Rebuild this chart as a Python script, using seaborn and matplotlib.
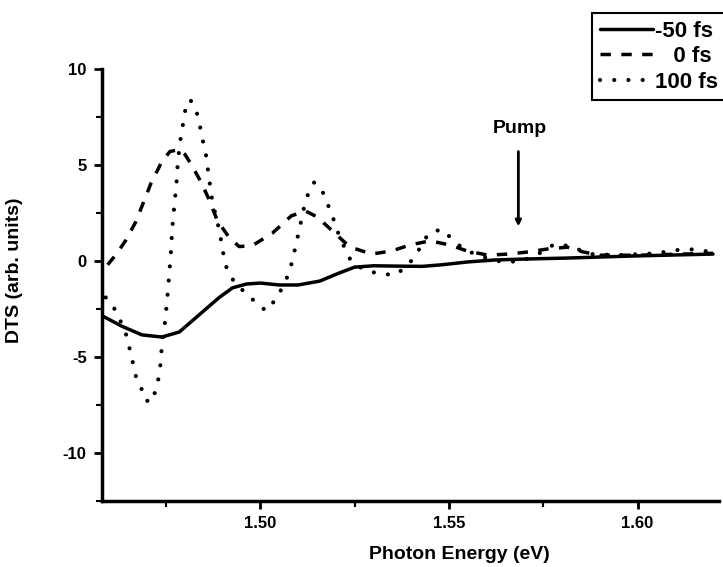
import numpy as np
import pandas as pd
import seaborn as sns
import matplotlib
matplotlib.use("Agg")
import matplotlib.pyplot as plt
from matplotlib.ticker import MultipleLocator

# -50 fs trace (solid)
x_m50 = [1.4585, 1.4633, 1.4686, 1.4739, 1.4785, 1.4838, 1.4891, 1.4926, 1.4963,
         1.5000, 1.5050, 1.5100, 1.5157, 1.5210, 1.5250, 1.5300, 1.5370, 1.5430,
         1.5480, 1.5550, 1.5620, 1.5700, 1.5810, 1.5990, 1.6200]
y_m50 = [-2.9, -3.4, -3.85, -3.96, -3.7, -2.8, -1.9, -1.4, -1.2,
         -1.15, -1.25, -1.25, -1.05, -0.62, -0.32, -0.25, -0.27, -0.28,
         -0.2, -0.05, 0.05, 0.1, 0.15, 0.26, 0.36]

# 0 fs trace (dashed)
x_0 = [1.4595, 1.4620, 1.4644, 1.4670, 1.4691, 1.4710, 1.4737, 1.4760, 1.4785,
       1.4800, 1.4816, 1.4843, 1.4864, 1.4886, 1.4918, 1.4944, 1.4979, 1.5032,
       1.5082, 1.5120, 1.5150, 1.5189, 1.5237, 1.5295, 1.5348, 1.5396, 1.5450,
       1.5503, 1.5548, 1.5604, 1.5657, 1.5710, 1.5760, 1.5814, 1.5856, 1.5900,
       1.6000, 1.6100, 1.6200]
y_0 = [-0.2, 0.4, 1.1, 2.05, 3.1, 4.05, 5.1, 5.7, 5.8,
       5.55, 5.05, 4.1, 3.2, 2.1, 1.2, 0.75, 0.8, 1.45,
       2.35, 2.6, 2.3, 1.6, 0.73, 0.36, 0.52, 0.83, 1.05,
       0.83, 0.52, 0.3, 0.36, 0.47, 0.62, 0.72, 0.47, 0.3,
       0.3, 0.35, 0.4]

# 100 fs trace (dotted)
x_100 = [1.4590, 1.4612, 1.4641, 1.4657, 1.4670, 1.4684, 1.4694, 1.4713, 1.4721,
         1.4729, 1.4734, 1.4739, 1.4747, 1.4753, 1.4758, 1.4763, 1.4766, 1.4771,
         1.4777, 1.4781, 1.4787, 1.4793, 1.4803, 1.4814, 1.4830, 1.4838, 1.4846,
         1.4856, 1.4864, 1.4872, 1.4880, 1.4890, 1.4899, 1.4904, 1.4912, 1.4931,
         1.4957, 1.4985, 1.5015, 1.5045, 1.5077, 1.5090, 1.5104, 1.5117, 1.5130,
         1.5143, 1.5165, 1.5189, 1.5210, 1.5239, 1.5270, 1.5295, 1.5324, 1.5359,
         1.5385, 1.5410, 1.5428, 1.5447, 1.5481, 1.5508, 1.5535, 1.5564, 1.5600,
         1.5628, 1.5662, 1.5700, 1.5740, 1.5780, 1.5812, 1.5843, 1.5875, 1.5950,
         1.6050, 1.6096, 1.6133, 1.6170, 1.6200]
y_100 = [-1.9, -2.45, -3.6, -4.85, -6.0, -6.6, -7.25, -7.35, -6.8,
         -6.2, -5.6, -4.4, -3.2, -2.0, -0.8, 0.5, 1.6, 2.7,
         3.9, 5.1, 6.2, 6.9, 8.1, 8.4, 7.85, 7.2, 6.4,
         5.5, 4.3, 3.2, 2.5, 1.7, 0.73, 0.1, -0.47, -1.1,
         -1.6, -2.1, -2.6, -1.9, -0.6, 0.47, 1.7, 2.9, 3.7,
         4.1, 3.6, 2.45, 1.25, 0.05, -0.4, -0.57, -0.68, -0.73,
         -0.3, 0.2, 0.88, 1.45, 1.65, 1.15, 0.68, 0.4, 0.15,
         0.0, -0.05, 0.05, 0.4, 0.88, 0.8, 0.6, 0.36, 0.3,
         0.4, 0.55, 0.62, 0.55, 0.45]

labels = ["-50 fs", "   0 fs", "100 fs"]
pump_x = 1.5684

sns.set_theme(style="ticks")
plt.rcParams['font.family'] = ['Liberation Sans', 'DejaVu Sans']
plt.rcParams['font.weight'] = 'bold'
plt.rcParams['axes.unicode_minus'] = False
plt.rcParams['text.color'] = 'black'
plt.rcParams['axes.labelcolor'] = 'black'

fig = plt.figure(figsize=(7.23, 5.67), dpi=100)
ax = fig.add_axes([0.141, 0.1164, 0.853, 0.762])

lw = 2.5
sns.lineplot(x=x_m50, y=y_m50, ax=ax, color='black', lw=lw, sort=False,
             label=labels[0])
l0 = sns.lineplot(x=x_0, y=y_0, ax=ax, color='black', lw=lw, sort=False,
                  label=labels[1]).lines[-1]
l0.set_dashes((3.0, 3.0))
l0.set_dash_capstyle('butt')
l100 = sns.lineplot(x=x_100, y=y_100, ax=ax, color='black', lw=lw + 0.5, sort=False,
                    label=labels[2]).lines[-1]
l100.set_dashes((0.01, 3.4))
l100.set_dash_capstyle('round')

ax.set_xlim(1.458, 1.6215)
ax.set_ylim(-12.5, 10)
ax.xaxis.set_minor_locator(MultipleLocator(0.025))
ax.yaxis.set_major_locator(MultipleLocator(5))
ax.yaxis.set_minor_locator(MultipleLocator(2.5))
ax.set_xticks([1.50, 1.55, 1.60])
ax.set_xticklabels(["1.50", "1.55", "1.60"])

sns.despine(ax=ax)
for s in ['left', 'bottom']:
    ax.spines[s].set_linewidth(2.5)
    ax.spines[s].set_color('black')
ax.tick_params(which='major', direction='out', length=6, width=2, colors='black',
               labelsize=12, pad=5)
ax.tick_params(which='minor', direction='out', length=4, width=1.5, colors='black')

ax.set_xlabel("Photon Energy (eV)", fontsize=14, fontweight='bold', color='black')
ax.set_ylabel("DTS (arb. units)", fontsize=14, fontweight='bold', color='black')
ax.xaxis.set_label_coords(0.579, -0.105)
ax.yaxis.set_label_coords(-0.128, 0.535)

ax.annotate("", xy=(pump_x, 1.8), xytext=(pump_x, 5.7),
            arrowprops=dict(arrowstyle='-|>', lw=2, color='black', mutation_scale=8,
                            shrinkA=0, shrinkB=0))
ax.text(pump_x + 0.0005, 6.9, "Pump", ha='center', va='center', fontsize=14,
        fontweight='bold', color='black')

leg = ax.legend(loc='upper left', bbox_to_anchor=(0.819, 0.977),
                bbox_transform=fig.transFigure, fontsize=16, frameon=True,
                fancybox=False, edgecolor='black', framealpha=1,
                handlelength=2.4, handletextpad=0.1, labelspacing=0.2,
                borderpad=0.35, borderaxespad=0)
leg.get_frame().set_linewidth(1.5)
for t in leg.get_texts():
    t.set_fontweight('bold')
    t.set_color('black')

fig.savefig("out.png", dpi=100)
